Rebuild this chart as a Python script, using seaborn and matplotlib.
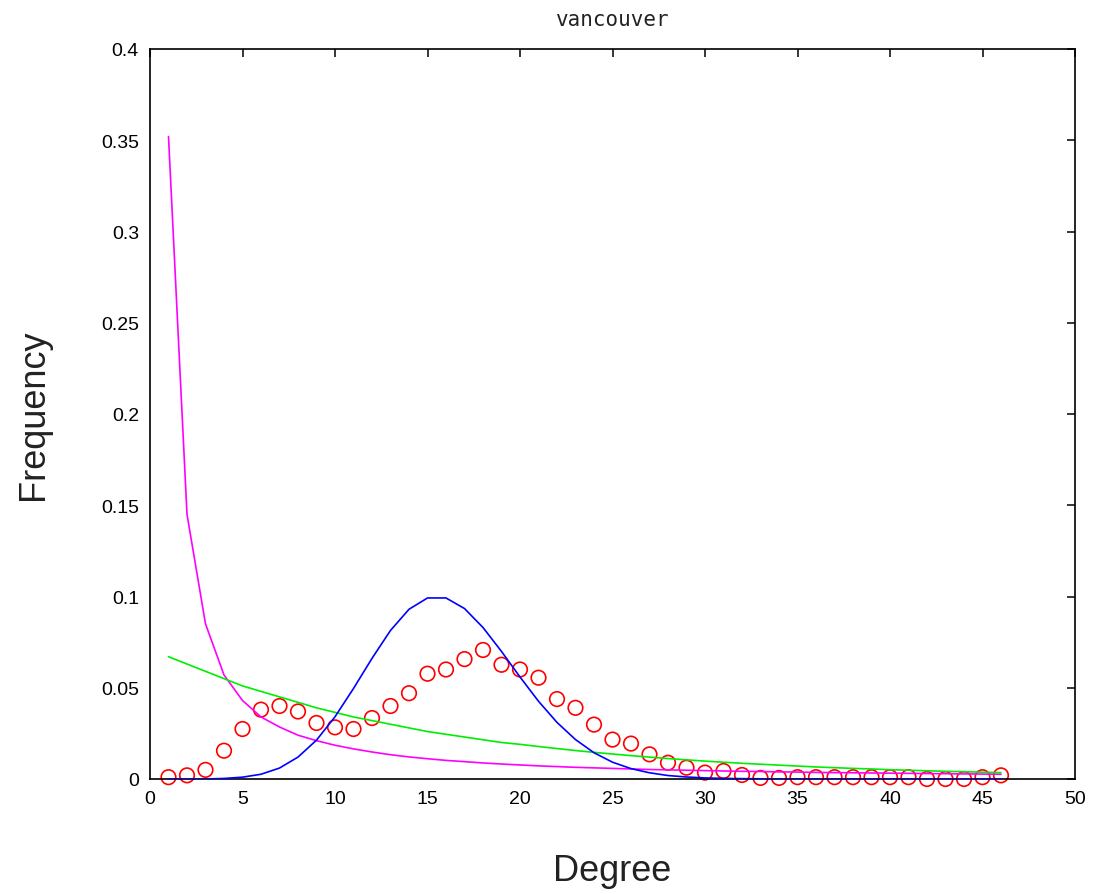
import numpy as np
import pandas as pd
import matplotlib
matplotlib.use("Agg")
import matplotlib.pyplot as plt
import seaborn as sns
from matplotlib import font_manager

degree = list(range(1, 47))

observed = [0.001, 0.002, 0.005, 0.0155, 0.0274, 0.038, 0.040, 0.037, 0.0307, 0.0283,
            0.0274, 0.0334, 0.040, 0.047, 0.0577, 0.060, 0.0657, 0.0707, 0.0626, 0.060,
            0.0555, 0.0438, 0.039, 0.0298, 0.0216, 0.0194, 0.0135, 0.0089, 0.0062, 0.0035,
            0.0044, 0.0022, 0.0006, 0.0006, 0.001, 0.001, 0.001, 0.001, 0.001, 0.001,
            0.001, 0.0, 0.0, 0.0, 0.001, 0.002]

powerlaw = [0.352, 0.145, 0.085, 0.057, 0.043, 0.034, 0.0285, 0.024, 0.021, 0.0185,
            0.0165, 0.0148, 0.0133, 0.0121, 0.0111, 0.0102, 0.0095, 0.0088, 0.0082, 0.0077,
            0.0072, 0.0068, 0.0064, 0.0061, 0.0058, 0.0055, 0.0052, 0.0050, 0.0048, 0.0046,
            0.0044, 0.0042, 0.0041, 0.0039, 0.0038, 0.0036, 0.0035, 0.0034, 0.0033, 0.0032,
            0.0031, 0.0030, 0.0029, 0.0028, 0.0027, 0.0026]

exponential = [0.067, 0.063, 0.059, 0.055, 0.051, 0.048, 0.045, 0.042, 0.039, 0.0365,
               0.034, 0.032, 0.030, 0.028, 0.026, 0.0245, 0.023, 0.0215, 0.020, 0.019,
               0.0178, 0.0167, 0.0156, 0.0146, 0.0137, 0.0128, 0.0120, 0.0112, 0.0105, 0.0098,
               0.0092, 0.0086, 0.0081, 0.0076, 0.0071, 0.0066, 0.0062, 0.0058, 0.0055, 0.0051,
               0.0048, 0.0045, 0.0042, 0.0040, 0.0037, 0.0035]

poisson = [0.0, 0.0, 0.0, 0.0003, 0.001, 0.0026, 0.006, 0.012, 0.0213, 0.0341,
           0.0496, 0.0661, 0.0814, 0.093, 0.0992, 0.0992, 0.0934, 0.083, 0.0699, 0.0559,
           0.0426, 0.031, 0.0216, 0.0144, 0.0092, 0.0057, 0.0034, 0.0019, 0.0011, 0.0006,
           0.0003, 0.0002, 0.0001, 0.0, 0.0, 0.0, 0.0, 0.0, 0.0, 0.0,
           0.0, 0.0, 0.0, 0.0, 0.0, 0.0]

x_ticks = [0, 5, 10, 15, 20, 25, 30, 35, 40, 45, 50]
y_ticks = [0, 0.05, 0.1, 0.15, 0.2, 0.25, 0.3, 0.35, 0.4]
y_tick_labels = ["0", "0.05", "0.1", "0.15", "0.2", "0.25", "0.3", "0.35", "0.4"]

sns.set_style("white")
plt.rcParams['font.family'] = ['Liberation Sans', 'DejaVu Sans']

installed = {f.name for f in font_manager.fontManager.ttflist}
tick_family = 'Liberation Sans Narrow' if 'Liberation Sans Narrow' in installed else 'Liberation Sans'
tick_size = 16 if tick_family == 'Liberation Sans Narrow' else 14

df = pd.DataFrame({"Degree": degree, "observed": observed, "powerlaw": powerlaw,
                   "exponential": exponential, "poisson": poisson})

fig = plt.figure(figsize=(10.94, 8.95), dpi=100)
ax = fig.add_axes([150/1094, 1-780/895, 925/1094, 730/895])

sns.scatterplot(data=df, x="Degree", y="observed", ax=ax, marker="o", s=110,
                facecolor="none", edgecolor="#ff0000", linewidth=1.2, clip_on=False, zorder=2)
sns.lineplot(data=df, x="Degree", y="powerlaw", ax=ax, color="#ff00ff", linewidth=1.2, zorder=3)
sns.lineplot(data=df, x="Degree", y="exponential", ax=ax, color="#00ee00", linewidth=1.2, zorder=3)
sns.lineplot(data=df, x="Degree", y="poisson", ax=ax, color="#0000ff", linewidth=1.2, zorder=4)

ax.set_xlim(0, 50)
ax.set_ylim(0, 0.4)
ax.set_xticks(x_ticks)
ax.set_yticks(y_ticks)
ax.set_yticklabels(y_tick_labels)
ax.tick_params(direction="in", length=6, width=1.1, top=True, right=True,
               labelsize=tick_size, pad=8, colors="black")
for lab in ax.get_xticklabels() + ax.get_yticklabels():
    lab.set_family(tick_family)
for sp in ax.spines.values():
    sp.set_visible(True)
    sp.set_color("black")
    sp.set_linewidth(1.2)

ax.set_xlabel("Degree", fontsize=26, labelpad=33, color="#222222")
ax.set_ylabel("Frequency", fontsize=26, labelpad=36, color="#222222")
ax.set_title("vancouver", fontsize=15, family="DejaVu Sans Mono", pad=17, color="#222222")

fig.savefig("out.png", dpi=100)
